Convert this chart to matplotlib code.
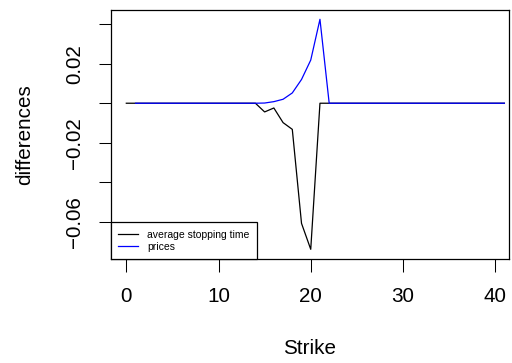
import numpy as np
import matplotlib
matplotlib.use("Agg")
import matplotlib.pyplot as plt

plt.rcParams['font.family'] = ['Liberation Sans', 'DejaVu Sans']

strike_stop = list(range(0, 42))
stopping_time = [0.0] * 14 + [0.0, -0.0044, -0.0024, -0.0098, -0.0132, -0.0607, -0.0738] + [0.0] * 21
strike_price = list(range(1, 42))
prices = [0.0] * 13 + [0.0, 0.0001, 0.0008, 0.002, 0.0052, 0.012, 0.0218, 0.0424] + [0.0] * 20

xticks = [0, 10, 20, 30, 40]
yticks = [-0.06, -0.04, -0.02, 0.0, 0.02, 0.04]
ytick_labels = ["\u22120.06", "", "\u22120.02", "", "0.02", ""]

W, H = 512, 363
fig = plt.figure(figsize=(W / 100, H / 100), dpi=100)
L, R, T, B = 111, 509, 10, 259
ax = fig.add_axes([L / W, 1 - B / H, (R - L) / W, (B - T) / H])

ax.plot(strike_stop, stopping_time, color='black', lw=0.9, label='average stopping time')
ax.plot(strike_price, prices, color='blue', lw=0.9, label='prices')

ax.set_xlim(-1.66, 41.5)
ax.set_ylim(-0.0787, 0.0471)
ax.set_xticks(xticks)
ax.set_xticklabels([str(v) for v in xticks])
ax.set_yticks(yticks)
ax.set_yticklabels(ytick_labels, rotation=90, va='center')

ax.tick_params(axis='both', direction='out', length=9, width=0.75, labelsize=14.9, color='black')
ax.tick_params(axis='x', pad=11.5)
ax.tick_params(axis='y', pad=10.5)
for s in ax.spines.values():
    s.set_linewidth(0.9)
    s.set_color('black')

ax.set_xlabel('Strike', fontsize=14.9)
ax.xaxis.set_label_coords(0.5, -(349 - B) / (B - T))
ax.xaxis.label.set_va('center')
ax.set_ylabel('differences', fontsize=14.9)
ax.yaxis.set_label_coords(-(L - 25) / (R - L), 0.5)
ax.yaxis.label.set_va('center')

leg = ax.legend(loc='lower left', bbox_to_anchor=(0, 0), borderaxespad=0,
                fontsize=7.5, frameon=True, fancybox=False, framealpha=1,
                edgecolor='black', handlelength=1.9, handletextpad=0.85,
                labelspacing=0.2, borderpad=0.7)
leg.get_frame().set_linewidth(0.9)

fig.savefig('out.png', dpi=100)
